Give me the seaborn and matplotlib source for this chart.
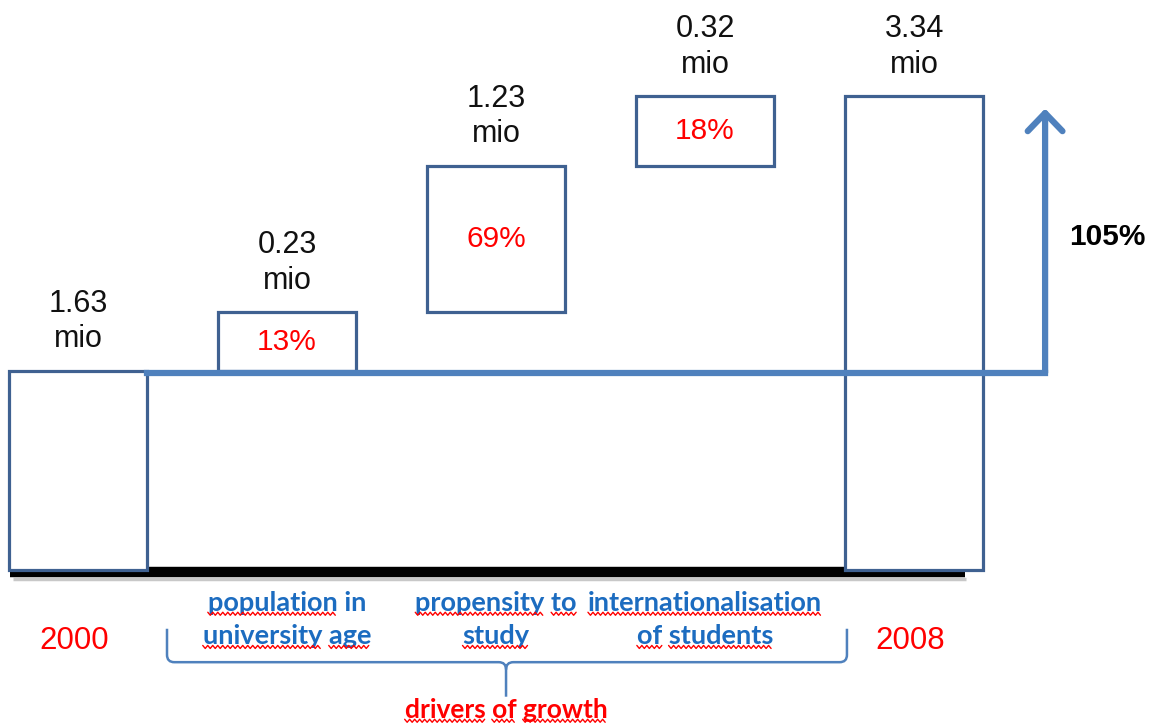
import numpy as np
import pandas as pd
import seaborn as sns
import matplotlib.pyplot as plt
from matplotlib.path import Path
from matplotlib.patches import PathPatch
from matplotlib.lines import Line2D
from matplotlib.transforms import IdentityTransform

# waterfall steps, left to right
steps = ["2000", "population in\nuniversity age", "propensity to\nstudy",
         "internationalisation\nof students", "2008"]
mio_labels = ["1.63", "0.23", "1.23", "0.32", "3.34"]
share_labels = ["", "13%", "69%", "18%", ""]
# box heights as drawn in the sketch (the boxes are not to scale with the mio values)
bar_height = [1.63, 0.48, 1.20, 0.57, 3.88]
total_growth = "105%"
bracket_label = "drivers of growth"

# first and last are totals sitting on the baseline, the middle ones float
bar_bottom = [0.0] + list(np.cumsum(bar_height[:3])) + [0.0]

BOX = "#3f6191"
LINE = "#4f81bd"
BLUE_TXT = "#1c6cc0"
RED = "#ff0000"

sns.set_style("white")
plt.rcParams["font.family"] = ["Liberation Sans", "DejaVu Sans"]

fig = plt.figure(figsize=(11.54, 7.26), dpi=100)
ax = fig.add_axes([0, 0, 1, 1])

df = pd.DataFrame({"step": steps, "height": bar_height})
sns.barplot(data=df, x="step", y="height", bottom=bar_bottom, color="white",
            edgecolor=BOX, linewidth=2.3, width=0.66, errorbar=None,
            zorder=3, ax=ax)

ax.set_xlim(-0.373, 5.148)
ax.set_ylim(-1.28, 4.67)
ax.axis("off")

# baseline
ax.plot([-0.325, 4.244], [-0.02, -0.02], color="black", lw=7.5, zorder=2,
        solid_capstyle="butt")
ax.plot([-0.31, 4.25], [-0.075, -0.075], color="#c8c8c8", lw=2.5, zorder=1,
        solid_capstyle="butt")

# connector from the 2000 level and growth arrow
y_conn = bar_height[0] - 0.015
x_arrow = len(steps) - 1 + 0.627
y_tip = 3.78
ax.plot([0.33, x_arrow], [y_conn, y_conn], color=LINE, lw=4.5, zorder=4,
        solid_capstyle="projecting")
ax.annotate("", xy=(x_arrow, y_tip), xytext=(x_arrow, y_conn),
            arrowprops=dict(arrowstyle="->,head_length=1.3,head_width=1.25",
                            lw=4.5, color=LINE, shrinkA=0, shrinkB=0,
                            mutation_scale=10), zorder=4)
ax.text(x_arrow + 0.115, (y_conn + y_tip) / 2 + 0.03, total_growth,
        ha="left", va="center", fontsize=21.5, fontweight="bold", color="black")

# value labels
for i, (lab, share) in enumerate(zip(mio_labels, share_labels)):
    top = bar_bottom[i] + bar_height[i]
    ax.annotate(lab + "\nmio", xy=(i, top), xytext=(0, 12),
                textcoords="offset points", ha="center", va="bottom",
                fontsize=22, linespacing=1.25, color="#111111")
    if share:
        ax.text(i, bar_bottom[i] + bar_height[i] / 2, share, ha="center",
                va="center", fontsize=21.5, color=RED, zorder=5)

# category captions
captions = []
for i, name in enumerate(steps):
    if i in (0, len(steps) - 1):
        ax.text(i - 0.02, -0.582, name, ha="center", va="center", fontsize=22.5,
                color=RED)
        continue
    for k, line in enumerate(name.split("\n")):
        t = ax.text(i, -0.27 - 0.272 * k, line, ha="center", va="center",
                    fontsize=19.5, fontweight="bold", color=BLUE_TXT,
                    family=["Lato", "DejaVu Sans"])
        captions.append(t)

# curly bracket under the drivers
xl, xm, xr = 0.426, 2.048, 3.679
yt, yh, ys = -0.483, -0.757, -1.04
rx, ry = 0.035, 0.06
verts = [(xl, yt), (xl, yh + ry), (xl, yh), (xl + rx, yh), (xm - rx, yh),
         (xm, yh), (xm, yh - ry), (xm, ys),
         (xr, yt), (xr, yh + ry), (xr, yh), (xr - rx, yh), (xm + rx, yh),
         (xm, yh), (xm, yh - ry)]
codes = [Path.MOVETO, Path.LINETO, Path.CURVE3, Path.CURVE3, Path.LINETO,
         Path.CURVE3, Path.CURVE3, Path.LINETO,
         Path.MOVETO, Path.LINETO, Path.CURVE3, Path.CURVE3, Path.LINETO,
         Path.CURVE3, Path.CURVE3]
ax.add_patch(PathPatch(Path(verts, codes), fill=False, edgecolor=LINE, lw=1.8))

drv = ax.text(xm, -1.147, bracket_label, ha="center", va="center", fontsize=19,
              fontweight="bold", color=RED, family=["Lato", "DejaVu Sans"])
captions.append(drv)

# red spell-check squiggles under the caption words
fig.canvas.draw()
renderer = fig.canvas.get_renderer()


def text_width(t, s):
    tmp = ax.text(0, 0, s, fontproperties=t.get_fontproperties())
    w = tmp.get_window_extent(renderer).width
    tmp.remove()
    return w


for t in captions:
    s = t.get_text()
    bb = t.get_window_extent(renderer)
    pos = 0
    for word in s.split(" "):
        start = s.index(word, pos)
        pos = start + len(word)
        if s == "population in" and word == "in":
            continue
        x0 = bb.x0 + (text_width(t, s[:start]) if start else 0)
        x1 = bb.x0 + text_width(t, s[:pos])
        xs = np.arange(x0, x1, 2.5)
        yv = bb.y0 + 1.0 + np.where(np.arange(len(xs)) % 2 == 0, 1.5, -1.5)
        fig.add_artist(Line2D(xs, yv, transform=IdentityTransform(), color=RED,
                              lw=1.0))

fig.savefig("out.png", dpi=100)
